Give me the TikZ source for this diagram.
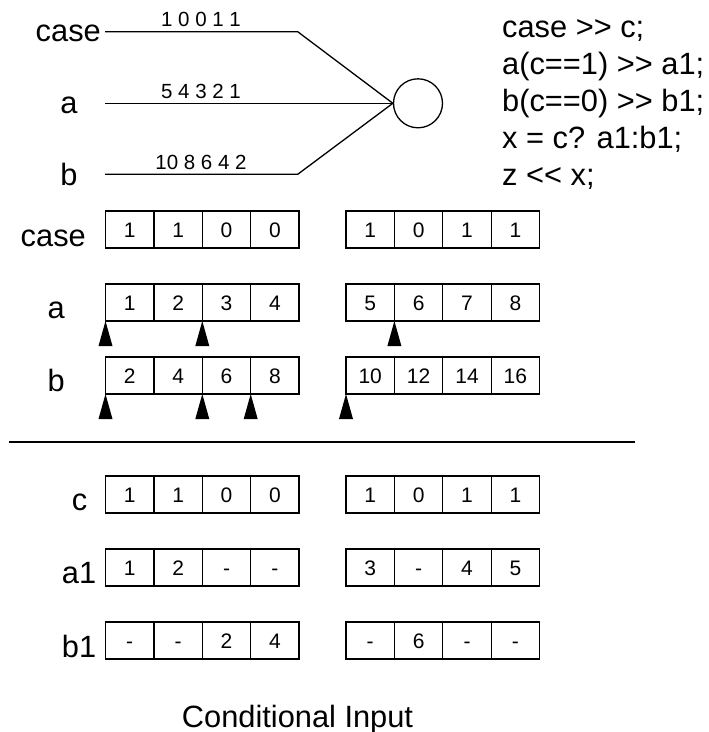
\documentclass[tikz,border=0pt]{standalone}
\usepackage{fontspec}
\setmainfont{Liberation Sans}
% keep ">>" and "<<" as two separate characters
\newcommand\gtgt{>\kern0pt>}
\newcommand\ltlt{<\kern0pt<}
\begin{document}
\begin{tikzpicture}[x=1pt,y=-1pt,
  big/.style={font=\fontsize{30.8}{37}\selectfont, inner sep=0pt},
  small/.style={font=\fontsize{20.5}{24}\selectfont, inner sep=0pt},
  cell/.style={draw, line width=1.3pt, minimum width=48.4pt, minimum height=37pt,
    inner sep=0pt, outer sep=0pt, anchor=north west, text height=15pt, text depth=0pt,
    font=\fontsize{21}{25}\selectfont},
  wire/.style={line width=1.3pt},
  marker/.style={fill=black}]
\useasboundingbox (0,0) rectangle (709,732);

% one row of four cells: name, left x, top y, values
\newcommand\cellrow[4]{%
  \foreach \v [count=\i] in {#4}
    \node[cell] (#1\i) at ({#2+(\i-1)*48.4}, #3) {\v};}
% black pointer under the lower left corner of a cell
\newcommand\pointer[1]{\fill[marker] (#1.south west) -- ++(-7,25) -- ++(14,0) -- cycle;}

% ---- input streams merging into the operator ----
\node[big, anchor=base east] (tcase) at (101,41.7) {case};
\node[big, anchor=base] (ta) at (69,113) {a};
\node[big, anchor=base] (tb) at (69,185) {b};

\node[circle, draw, line width=1.3pt, minimum size=49pt, inner sep=0pt] (join) at (418,103.3) {};

\coordinate (sC) at (105,31.7);  \coordinate (kC) at (297.7,31.7);
\coordinate (sA) at (105,103.3);
\coordinate (sB) at (105,174.3); \coordinate (kB) at (297.7,174.3);
\draw[wire] (sC) -- (kC) -- (join.west);
\draw[wire] (sA) -- (join.west);
\draw[wire] (sB) -- (kB) -- (join.west);

\node[small, anchor=base] (vC) at (201,26.5) {1 0 0 1 1};
\node[small, anchor=base] (vA) at (201,98.5) {5 4 3 2 1};
\node[small, anchor=base] (vB) at (201,169.5) {10 8 6 4 2};

% ---- program text ----
\node[big, anchor=base west] (code1) at (502,37)  {case \gtgt{} c;};
\node[big, anchor=base west] (code2) at (502,74)  {a(c==1) \gtgt{} a1;};
\node[big, anchor=base west] (code3) at (502,111) {b(c==0) \gtgt{} b1;};
\node[big, anchor=base west] (code4) at (502,148) {x = c? a1:b1;};
\node[big, anchor=base west] (code5) at (502,185) {z \ltlt{} x;};

% ---- input buffers ----
\node[big, anchor=base east] (lcase) at (86,246) {case};
\node[big, anchor=base east] (la) at (65,318) {a};
\node[big, anchor=base east] (lb) at (65,391) {b};

\cellrow{caseL}{105.5}{211}{1,1,0,0}
\cellrow{caseR}{346}{211}{1,0,1,1}
\cellrow{aL}{105.5}{284}{1,2,3,4}
\cellrow{aR}{346}{284}{5,6,7,8}
\cellrow{bL}{105.5}{357}{2,4,6,8}
\cellrow{bR}{346}{357}{10,12,14,16}

\pointer{aL1}\pointer{aL3}\pointer{aR2}
\pointer{bL1}\pointer{bL3}\pointer{bL4}\pointer{bR1}

% ---- separator ----
\coordinate (sepL) at (9,442);
\coordinate (sepR) at (635,442);
\draw[wire] (sepL) -- (sepR);

% ---- output buffers ----
\node[big, anchor=base east] (lc) at (87.5,510) {c};
\node[big, anchor=base east] (la1) at (96.4,583) {a1};
\node[big, anchor=base east] (lb1) at (96.4,657) {b1};

\cellrow{cL}{105.5}{476}{1,1,0,0}
\cellrow{cR}{346}{476}{1,0,1,1}
\cellrow{aoL}{105.5}{549}{1,2,-,-}
\cellrow{aoR}{346}{549}{3,-,4,5}
\cellrow{boL}{105.5}{622}{-,-,2,4}
\cellrow{boR}{346}{622}{-,6,-,-}

% ---- caption ----
\node[big, anchor=base] (caption) at (297.5,727) {Conditional Input};
\end{tikzpicture}
\end{document}
